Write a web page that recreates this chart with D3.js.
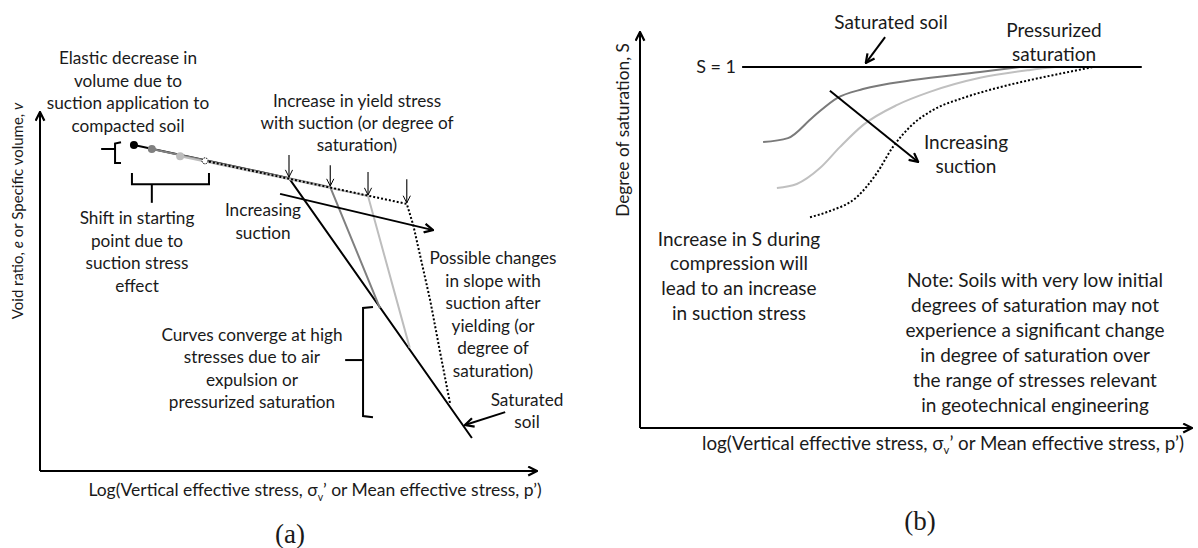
<!DOCTYPE html>
<html>
<head>
<meta charset="utf-8">
<script src="https://cdn.jsdelivr.net/npm/d3@7"></script>
<style>
body { margin: 0; background: #fff; }
text { font-family: Lato, "Open Sans", sans-serif; fill: #1a1a1a; }
</style>
</head>
<body>
<div id="viz"></div>
<script>
var width = 1198, height = 548;

// panel (a): log stress (x) vs void ratio (y), schematic units 0-100
var startX = [18.9, 22.5, 28.2, 33.2];
var startY = [90.8, 89.7, 87.7, 86.4];
var yieldX = [50.1, 58.4, 66.0, 73.8];
var yieldY = [81.6, 79.1, 76.6, 74.4];
var arrowTopY = [88.0, 85.2, 83.3, 81.3];
var compressionX = [[50.1, 86.9], [58.4, 68.4], [66.0, 74.4], [73.8, 75.1, 78.5, 80.5, 82.5]];
var compressionY = [[81.6, 9.2], [79.1, 45.4], [76.6, 34.3], [74.4, 68.5, 47.6, 33.1, 18.9]];

// panel (b): log stress (x) vs degree of saturation S
var satLineX = [18.5, 90.9];
var curvesX = [
	[22.3, 26.8, 31.3, 35.7, 40.4, 49.5, 61.6, 68.8],
	[24.8, 28.4, 32.6, 36.2, 40.4, 46.6, 52.5, 61.6, 70.7, 75.2],
	[30.8, 34.4, 39.3, 42.9, 45.8, 48.9, 53.1, 58.5, 64.7, 70.7, 76.6, 82.1]];
var curvesS = [
	[0.792, 0.803, 0.861, 0.914, 0.939, 0.964, 0.986, 1.0],
	[0.665, 0.676, 0.720, 0.778, 0.839, 0.895, 0.931, 0.970, 0.992, 1.0],
	[0.584, 0.601, 0.640, 0.706, 0.778, 0.834, 0.881, 0.914, 0.942, 0.964, 0.983, 1.0]];

// annotation texts
var elasticText = ["Elastic decrease in", "volume due to", "suction application to", "compacted soil"];
var yieldText = ["Increase in yield stress", "with suction (or degree of", "saturation)"];
var suctionText = ["Increasing", "suction"];
var shiftText = ["Shift in starting", "point due to", "suction stress", "effect"];
var convergeText = ["Curves converge at high", "stresses due to air", "expulsion or", "pressurized saturation"];
var slopeText = ["Possible changes", "in slope with", "suction after", "yielding (or", "degree of", "saturation)"];
var saturatedText = ["Saturated", "soil"];
var pressurizedText = ["Pressurized", "saturation"];
var increaseSText = ["Increase in S during", "compression will", "lead to an increase", "in suction stress"];
var noteText = ["Note: Soils with very low initial", "degrees of saturation may not", "experience a significant change", "in degree of saturation over", "the range of stresses relevant", "in geotechnical engineering"];

var lineColors = ["#000", "#808080", "#bdbdbd", "#000"];
var lineDash = [null, null, null, "2,2"];

var svg = d3.select("#viz").append("svg")
	.attr("width", width)
	.attr("height", height);

var defs = svg.append("defs");
function addMarker(id, size, strokeWidth) {
	defs.append("marker")
		.attr("id", id)
		.attr("viewBox", "0 0 10 10")
		.attr("refX", 9).attr("refY", 5)
		.attr("markerWidth", size).attr("markerHeight", size)
		.attr("markerUnits", "userSpaceOnUse")
		.attr("orient", "auto")
		.append("path")
		.attr("d", "M1,1 L9,5 L1,9")
		.attr("fill", "none")
		.attr("stroke", "#000")
		.attr("stroke-width", strokeWidth)
		.attr("stroke-linejoin", "miter");
}
addMarker("head", 11, 2);
addMarker("thin", 9, 1.1);

function arrow(parent, x1, y1, x2, y2, marker, w) {
	parent.append("line")
		.attr("x1", x1).attr("y1", y1).attr("x2", x2).attr("y2", y2)
		.attr("stroke", "#000")
		.attr("stroke-width", w)
		.attr("marker-end", "url(#" + marker + ")");
}

function addLines(parent, x, y, lines, size, spacing, anchor) {
	var t = parent.append("text")
		.attr("font-size", size + "px")
		.attr("text-anchor", anchor || "middle");
	lines.forEach(function(line, i) {
		t.append("tspan")
			.attr("x", x)
			.attr("y", y + i * spacing)
			.attr("dy", "0.35em")
			.text(line);
	});
	return t;
}

function stressLabel(parent, x, y, prefix, size) {
	var t = parent.append("text")
		.attr("x", x).attr("y", y)
		.attr("dy", "0.35em")
		.attr("text-anchor", "middle")
		.attr("font-size", size + "px");
	t.append("tspan").text(prefix + "(Vertical effective stress, σ");
	t.append("tspan").attr("font-size", (size * 0.6) + "px").attr("dy", size * 0.25).text("v");
	t.append("tspan").attr("dy", -size * 0.25).text("’ or Mean effective stress, p’)");
}

function bracket(parent, pts) {
	parent.append("path")
		.attr("d", d3.line()(pts))
		.attr("fill", "none")
		.attr("stroke", "#000")
		.attr("stroke-width", 2);
}

// ---------- panel (a)
var xA = d3.scaleLinear().domain([0, 100]).range([40, 537]);
var yA = d3.scaleLinear().domain([0, 100]).range([471, 112]);
var gA = svg.append("g");

arrow(gA, xA(0), yA(0), xA(0), yA(100), "head", 2);
arrow(gA, xA(0), yA(0), xA(100), yA(0), "head", 2);

var lineA = d3.line().x(function(d) { return xA(d[0]); }).y(function(d) { return yA(d[1]); });

for (var i = 0; i < startX.length; i++) {
	var pts = [[startX[i], startY[i]]];
	compressionX[i].forEach(function(x, j) { pts.push([x, compressionY[i][j]]); });
	gA.append("path")
		.attr("d", lineA(pts))
		.attr("fill", "none")
		.attr("stroke", lineColors[i])
		.attr("stroke-width", 2)
		.attr("stroke-dasharray", lineDash[i]);
}

for (i = 0; i < startX.length; i++) {
	gA.append("circle")
		.attr("cx", xA(startX[i]))
		.attr("cy", yA(startY[i]))
		.attr("r", i == 3 ? 3 : 4)
		.attr("fill", i == 3 ? "#fff" : lineColors[i])
		.attr("stroke", i == 3 ? "#000" : "none")
		.attr("stroke-dasharray", i == 3 ? "1.5,1" : null);
	arrow(gA, xA(yieldX[i]), yA(arrowTopY[i]), xA(yieldX[i]), yA(yieldY[i]) - 1, "thin", 1.1);
}

arrow(gA, xA(48.3), yA(77.2), xA(79.1), yA(67.1), "head", 2);
arrow(gA, xA(93.6), yA(16.4), xA(85.5), yA(12.8), "head", 2);

bracket(gA, [[xA(16.3), yA(91.6)], [xA(15.1), yA(91.2)], [xA(15.1), yA(85.8)], [xA(16.3), yA(85.8)]]);
bracket(gA, [[xA(12.3), yA(89.7)], [xA(15.1), yA(89.7)]]);
bracket(gA, [[xA(18.5), yA(83.0)], [xA(18.5), yA(79.9)], [xA(34.0), yA(79.9)], [xA(34.0), yA(83.0)]]);
bracket(gA, [[xA(22.5), yA(79.9)], [xA(22.5), yA(74.7)]]);
bracket(gA, [[xA(67.0), yA(45.7)], [xA(65.0), yA(45.4)], [xA(65.0), yA(15.3)], [xA(67.0), yA(15.0)]]);
bracket(gA, [[xA(61.4), yA(30.9)], [xA(65.0), yA(30.9)]]);

var fsA = 17.2;
addLines(gA, 128, 58, elasticText, fsA, 22.7);
addLines(gA, 357, 101, yieldText, fsA, 22);
addLines(gA, 263, 210, suctionText, fsA, 22.5);
addLines(gA, 137, 218, shiftText, fsA, 22.5);
addLines(gA, 252, 335, convergeText, fsA, 22.3);
addLines(gA, 493, 258, slopeText, fsA, 22.6);
addLines(gA, 527, 400, saturatedText, fsA, 22);
stressLabel(gA, 315, 490, "Log", 17.5);

var yLabA = gA.append("text")
	.attr("transform", "translate(18,211) rotate(-90)")
	.attr("dy", "0.35em")
	.attr("text-anchor", "middle")
	.attr("font-size", "15px");
yLabA.append("tspan").text("Void ratio, ");
yLabA.append("tspan").attr("font-style", "italic").text("e");
yLabA.append("tspan").text(" or Specific volume, ");
yLabA.append("tspan").attr("font-style", "italic").text("v");

gA.append("text")
	.attr("x", 290).attr("y", 534).attr("dy", "0.35em")
	.attr("text-anchor", "middle")
	.attr("font-size", "27px")
	.style("font-family", "'Liberation Serif', serif")
	.text("(a)");

// ---------- panel (b)
var xB = d3.scaleLinear().domain([0, 100]).range([640, 1192]);
var yB = d3.scaleLinear().domain([0, 1]).range([428, 67]);
var gB = svg.append("g");

arrow(gB, xB(0), yB(0), xB(0), yB(1.097), "head", 2);
arrow(gB, xB(0), yB(0), xB(100), yB(0), "head", 2);

var lineB = d3.line().x(function(d) { return xB(d[0]); }).y(function(d) { return yB(d[1]); }).curve(d3.curveMonotoneX);
var curveColorsB = ["#7a7a7a", "#c0c0c0", "#000"];
var curveDashB = [null, null, "2,2"];
curvesX.forEach(function(xs, k) {
	var pts = xs.map(function(x, j) { return [x, curvesS[k][j]]; });
	gB.append("path")
		.attr("d", lineB(pts))
		.attr("fill", "none")
		.attr("stroke", curveColorsB[k])
		.attr("stroke-width", 2)
		.attr("stroke-dasharray", curveDashB[k]);
});

gB.append("line")
	.attr("x1", xB(satLineX[0])).attr("x2", xB(satLineX[1]))
	.attr("y1", yB(1)).attr("y2", yB(1))
	.attr("stroke", "#000").attr("stroke-width", 2);

arrow(gB, xB(34.4), yB(0.934), xB(50.4), yB(0.737), "head", 2);
arrow(gB, xB(44.4), yB(1.083), xB(40.9), yB(1.011), "head", 2);

var fsB = 19;
addLines(gB, 736, 67, ["S = 1"], 18, 0, "end");
addLines(gB, 891, 22, ["Saturated soil"], fsB, 0);
addLines(gB, 1054, 30, pressurizedText, fsB, 24);
addLines(gB, 966, 142, suctionText, fsB, 24.5);
addLines(gB, 739, 239, increaseSText, fsB, 24.7);
addLines(gB, 1035, 280, noteText, fsB, 25);
stressLabel(gB, 943, 443, "log", 18.8);

gB.append("text")
	.attr("transform", "translate(623,130) rotate(-90)")
	.attr("dy", "0.35em")
	.attr("text-anchor", "middle")
	.attr("font-size", "17.3px")
	.text("Degree of saturation, S");

gB.append("text")
	.attr("x", 920).attr("y", 521).attr("dy", "0.35em")
	.attr("text-anchor", "middle")
	.attr("font-size", "27px")
	.style("font-family", "'Liberation Serif', serif")
	.text("(b)");
</script>
</body>
</html>
